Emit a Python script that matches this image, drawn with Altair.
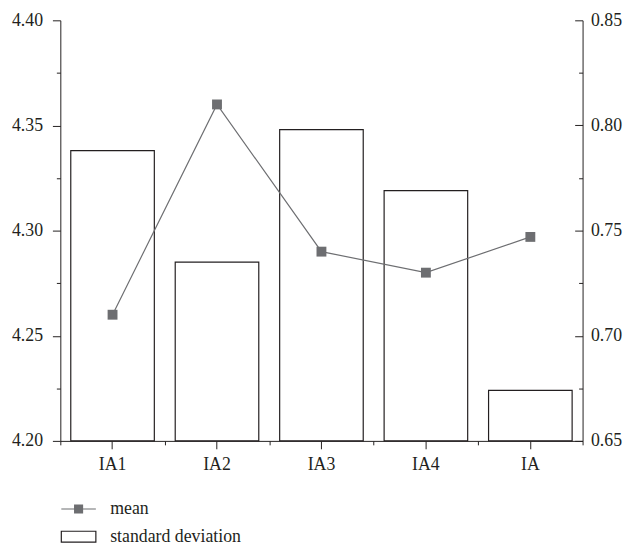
import altair as alt
import pandas as pd

categories = ["IA1", "IA2", "IA3", "IA4", "IA"]
mean_values = [4.260, 4.360, 4.290, 4.280, 4.297]
sd_values = [0.788, 0.735, 0.798, 0.769, 0.674]
left_ticks = [4.20, 4.25, 4.30, 4.35, 4.40]
left_minor = [4.225, 4.275, 4.325, 4.375]
right_ticks = [0.65, 0.70, 0.75, 0.80, 0.85]
right_minor = [0.675, 0.725, 0.775, 0.825]
series_names = ["mean", "standard deviation"]

df = pd.DataFrame({"category": categories, "mean": mean_values,
                   "sd": sd_values, "series": ["mean"] * len(categories)})

FONT = "Liberation Serif"
INK = "#231f20"
GRAY = "#6d6e71"

MEAN_SYMBOL = "M-1.75,0L1.75,0M-0.4,-0.4L0.4,-0.4L0.4,0.4L-0.4,0.4Z"
SD_SYMBOL = "M-1.75,-0.55L1.75,-0.55L1.75,0.55L-1.75,0.55Z"

band = alt.Scale(type="band", domain=categories, paddingInner=0.2, paddingOuter=0.1)
band0 = alt.Scale(type="band", domain=categories, paddingInner=0, paddingOuter=0)
ymean = alt.Scale(domain=[left_ticks[0], left_ticks[-1]], nice=False, zero=False)
ysd = alt.Scale(domain=[right_ticks[0], right_ticks[-1]], nice=False, zero=False)

x_none = alt.X("category:N", scale=band, sort=categories, axis=None)

bars = alt.Chart(df).mark_bar(fill="white", stroke=INK, strokeWidth=1.2).encode(
    x=alt.X("category:N", scale=band, sort=categories, title=None,
            axis=alt.Axis(orient="bottom", labelAngle=0, tickSize=8, labelPadding=7,
                          domain=True, grid=False, zindex=1)),
    y=alt.Y("sd:Q", scale=ysd, title=None,
            axis=alt.Axis(orient="right", values=right_ticks, format=".2f", ticks=False,
                          tickSize=0, labelPadding=8, labelFlush=False, grid=False,
                          zindex=1)),
    y2=alt.Y2(datum=right_ticks[0]),
)

line = alt.Chart(df).mark_line(color=GRAY, strokeWidth=1.2).encode(
    x=x_none,
    y=alt.Y("mean:Q", scale=ymean, title=None,
            axis=alt.Axis(orient="left", values=left_ticks, format=".2f", tickSize=8,
                          labelPadding=10, labelFlush=False, grid=False, zindex=1)),
)

points = alt.Chart(df).mark_point(shape="square", size=100, filled=True, opacity=1,
                                  color=GRAY).encode(
    x=x_none,
    y=alt.Y("mean:Q", scale=ymean, axis=None),
)

legend = alt.Legend(title=None, orient="none", legendX=7.5, legendY=484,
                    symbolSize=400, labelFont=FONT, labelFontSize=18, labelColor=INK,
                    labelOffset=21, rowPadding=8, symbolStrokeWidth=1.2)

hidden = alt.Chart(df).transform_filter("false")

legend_layer = hidden.mark_point(filled=True, opacity=1).encode(
    x=x_none,
    y=alt.Y("mean:Q", scale=ymean, axis=None),
    shape=alt.Shape("series:N", scale=alt.Scale(domain=series_names,
                                                range=[MEAN_SYMBOL, SD_SYMBOL]),
                    legend=legend),
    fill=alt.Fill("series:N", scale=alt.Scale(domain=series_names, range=[GRAY, "white"]),
                  legend=legend),
    stroke=alt.Stroke("series:N", scale=alt.Scale(domain=series_names, range=[GRAY, INK]),
                      legend=legend),
)

left_minor_ticks = hidden.mark_point().encode(
    x=alt.X("category:N", scale=band0, sort=categories, title=None,
            axis=alt.Axis(orient="bottom", labels=False, domain=False, tickSize=4,
                          tickBand="extent", grid=False, zindex=1)),
    y=alt.Y("mean:Q", scale=ymean, title=None,
            axis=alt.Axis(orient="left", values=left_minor, labels=False, domain=False,
                          tickSize=4, grid=False, zindex=1)),
)

right_major_ticks = hidden.mark_point().encode(
    x=x_none,
    y=alt.Y("sd:Q", scale=ysd, title=None,
            axis=alt.Axis(orient="right", values=right_ticks, labels=False, domain=False,
                          tickSize=8, offset=-8, grid=False, zindex=1)),
)

right_minor_ticks = hidden.mark_point().encode(
    x=x_none,
    y=alt.Y("sd:Q", scale=ysd, title=None,
            axis=alt.Axis(orient="right", values=right_minor, labels=False, domain=False,
                          tickSize=4, offset=-4, grid=False, zindex=1)),
)

chart = alt.layer(
    bars, line, points, legend_layer, left_minor_ticks, right_major_ticks, right_minor_ticks
).resolve_scale(
    x="independent", y="independent"
).properties(
    width=529, height=426,
    autosize=alt.AutoSizeParams(type="none"),
    padding={"left": 53, "top": 9, "right": 45, "bottom": 104},
).configure_axis(
    labelFont=FONT, labelFontSize=18, labelColor=INK, domainColor=INK, tickColor=INK,
    domainWidth=1, tickWidth=1, grid=False,
).configure_view(strokeWidth=0)

chart.save("out.html", embed_options={"renderer": "svg", "actions": False})
